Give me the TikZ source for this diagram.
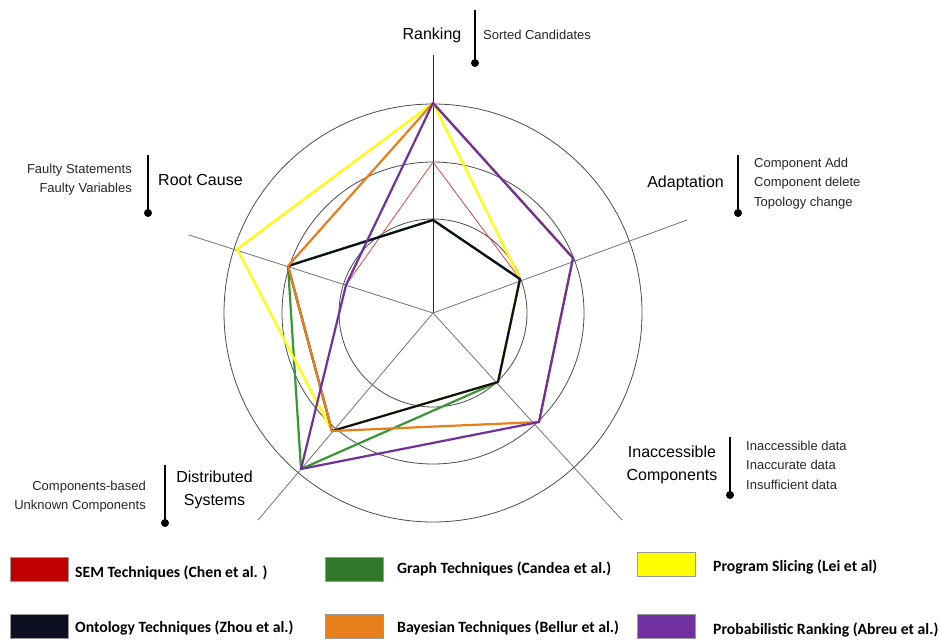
\documentclass[tikz,border=0pt]{standalone}
\usepackage{fontspec}
\setmainfont{Liberation Sans}
\newfontfamily\legendfont{Carlito}
\definecolor{semred}{RGB}{192,0,0}
\definecolor{semline}{RGB}{222,70,70}
\definecolor{graphgreen}{RGB}{49,120,43}
\definecolor{graphline}{RGB}{58,150,50}
\definecolor{sliceyellow}{RGB}{255,255,0}
\definecolor{ontodark}{RGB}{14,14,34}
\definecolor{bayesorange}{RGB}{232,127,26}
\definecolor{probpurple}{RGB}{112,48,160}
\begin{document}
\begin{tikzpicture}[x=1pt,y=-1pt,
  ring/.style={draw=black!70,line width=0.8pt},
  spoke/.style={draw=black!55,line width=0.8pt},
  series/.style={line width=2.2pt,line join=round},
  axislabel/.style={font=\fontsize{16}{23}\selectfont,inner sep=0,align=center},
  itemtext/.style={font=\fontsize{13}{19.5}\selectfont,inner sep=0,text=black!85},
  tickbar/.style={line width=2.2pt},
  tickdot/.style={circle,fill=black,inner sep=0,minimum size=8pt},
  swatch/.style={draw=black!40,line width=0.6pt,minimum width=58pt,minimum height=24pt,inner sep=0,anchor=north west},
  legendtext/.style={font=\legendfont\bfseries\fontsize{15.7}{17}\selectfont,anchor=west,inner sep=0}]
\useasboundingbox (0,0) rectangle (939,640);

% rings and spokes
\coordinate (c) at (433,313);
\draw[ring] (c) circle (94);
\draw[ring] (c) circle (151);
\draw[ring] (c) circle (209);
\coordinate (eRank) at (433,55);
\coordinate (eAdapt) at (687,220);
\coordinate (eRoot) at (189,235);
\coordinate (eDist) at (258,520);
\coordinate (eInacc) at (622,520);
\draw[draw=black!85,line width=0.8pt] (c) -- (eRank);
\draw[spoke] (c) -- (eAdapt);
\draw[spoke] (c) -- (eRoot);
\draw[spoke] (c) -- (eDist);
\draw[spoke] (c) -- (eInacc);

% level points on each axis
\coordinate (R1) at (433,220); \coordinate (R2) at (433,162); \coordinate (R3) at (433,103);
\coordinate (A1) at (520,279); \coordinate (A2) at (573,258);
\coordinate (I1) at (498,382); \coordinate (I2) at (539,422);
\coordinate (D2) at (332,431); \coordinate (D3) at (301,469);
\coordinate (C1) at (346,285); \coordinate (C2) at (288,266); \coordinate (C3) at (237,249);

% series
\draw[draw=semline,line width=0.8pt,line join=round] (R2) -- (A1) -- (I1) -- (D3) -- (C1) -- cycle;
\draw[series,draw=graphline] (R1) -- (A1) -- (I1) -- (D3) -- (C2) -- cycle;
\draw[series,draw=sliceyellow] (R3) -- (A1) -- (I1) -- (D2) -- (C3) -- cycle;
\draw[series,draw=ontodark] (R1) -- (A1) -- (I1) -- (D2) -- (C2) -- cycle;
\draw[series,draw=bayesorange] (R3) -- (A2) -- (I2) -- (D2) -- (C2) -- cycle;
\draw[series,draw=probpurple] (R3) -- (A2) -- (I2) -- (D3) -- (C1) -- cycle;

% axis labels with their markers
\node[axislabel] (lRank) at (432,35) {Ranking};
\draw[tickbar] (475,10) -- (475,63) node[tickdot] (dRank) {};
\node[itemtext,anchor=west] (iRank) at (483,35) {Sorted Candidates};

\node[axislabel,anchor=west] (lRoot) at (158,180) {Root Cause};
\draw[tickbar] (148,155) -- (148,213) node[tickdot] (dRoot) {};
\node[itemtext,anchor=east,align=right] (iRoot) at (132,179.5) {Faulty Statements\\Faulty Variables};

\node[axislabel,anchor=east] (lAdapt) at (724,183) {Adaptation};
\draw[tickbar] (738,155) -- (738,213) node[tickdot] (dAdapt) {};
\node[itemtext,anchor=west,align=left] (iAdapt) at (754,183.5) {Component Add\\Component delete\\Topology change};

\node[axislabel] (lInacc) at (672,464.5) {Inaccessible\\Components};
\draw[tickbar] (730,437) -- (730,495) node[tickdot] (dInacc) {};
\node[itemtext,anchor=west,align=left] (iInacc) at (746,465) {Inaccessible data\\Inaccurate data\\Insufficient data};

\node[axislabel] (lDist) at (214.5,490) {Distributed\\Systems};
\draw[tickbar] (165,465) -- (165,523) node[tickdot] (dDist) {};
\node[itemtext,anchor=east,align=right] (iDist) at (146,496.5) {Components-based\\Unknown Components};

% legend
\node[swatch,fill=semred] (kSem) at (10,557) {};
\node[legendtext] (tSem) at (75,573) {SEM Techniques (Chen et al. )};
\node[swatch,fill=graphgreen] (kGraph) at (325,557) {};
\node[legendtext] (tGraph) at (397,569) {Graph Techniques (Candea et al.)};
\node[swatch,fill=sliceyellow] (kSlice) at (637,552) {};
\node[legendtext] (tSlice) at (713,567) {Program Slicing (Lei et al)};
\node[swatch,fill=ontodark] (kOnto) at (10,614) {};
\node[legendtext] (tOnto) at (75,628) {Ontology Techniques (Zhou et al.)};
\node[swatch,fill=bayesorange] (kBayes) at (325,614) {};
\node[legendtext] (tBayes) at (397,628) {Bayesian Techniques (Bellur et al.)};
\node[swatch,fill=probpurple] (kProb) at (637,614) {};
\node[legendtext] (tProb) at (713,630) {Probabilistic Ranking (Abreu et al.)};
\end{tikzpicture}
\end{document}
